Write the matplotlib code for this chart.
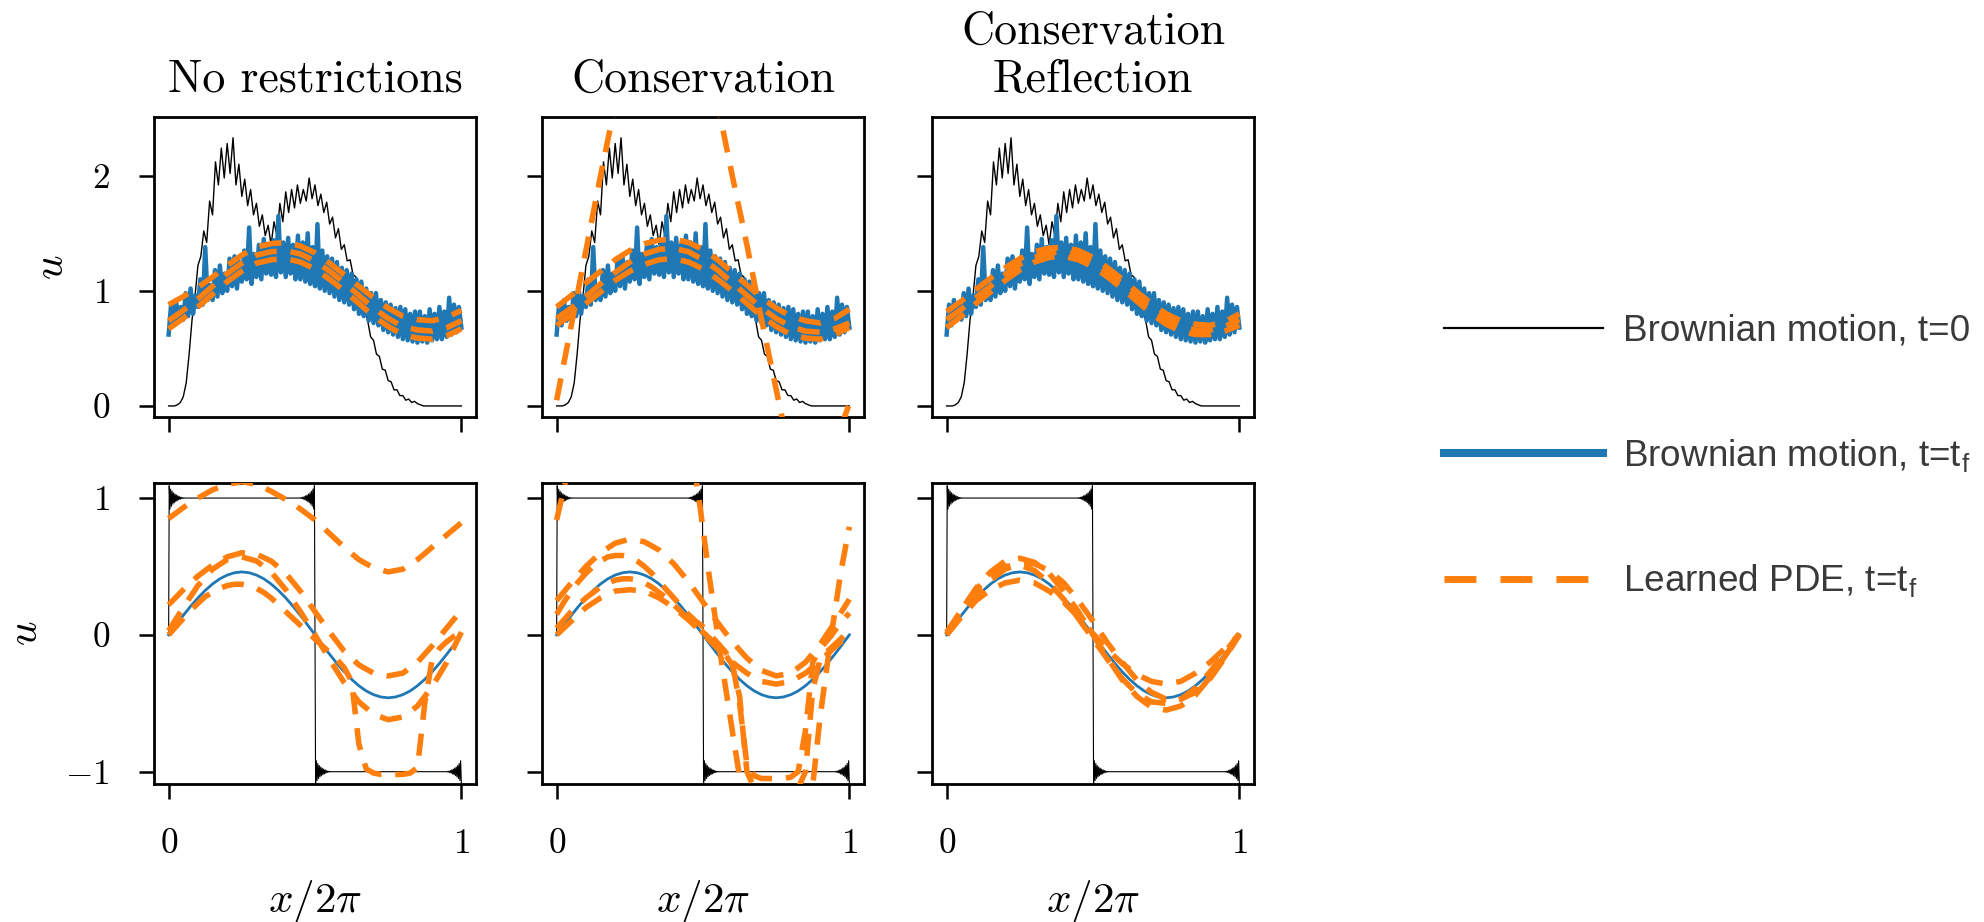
import numpy as np
import matplotlib
matplotlib.use('Agg')
import matplotlib.pyplot as plt
from matplotlib.lines import Line2D

plt.rcParams['mathtext.fontset'] = 'cm'
plt.rcParams['font.family'] = 'cmr10'
plt.rcParams['axes.formatter.use_mathtext'] = True

titles = ['No restrictions', 'Conservation', 'Conservation\nReflection']

# grids
x101 = np.linspace(0, 1, 101)
x121 = np.linspace(0, 1, 121)
x41 = np.linspace(0, 1, 41)
x21 = np.linspace(0, 1, 21)

# ---- top row: Brownian motion, t=0 (same in all panels)
black_top = [0.0, 0.0, 0.0, 0.01, 0.03, 0.08, 0.2, 0.45, 0.75, 0.95,
             1.22, 1.3, 1.52, 1.42, 1.78, 1.66, 2.12, 1.92, 2.24, 1.98,
             2.28, 2.02, 2.33, 1.92, 2.1, 1.82, 1.97, 1.74, 1.88, 1.66,
             1.76, 1.56, 1.66, 1.48, 1.57, 1.4, 1.6, 1.48, 1.76, 1.6,
             1.86, 1.68, 1.88, 1.72, 1.92, 1.76, 1.88, 1.78, 1.98, 1.8,
             1.92, 1.74, 1.84, 1.68, 1.77, 1.58, 1.64, 1.46, 1.54, 1.36,
             1.4, 1.26, 1.27, 1.14, 1.12, 1.0, 0.96, 0.84, 0.74, 0.6,
             0.57, 0.45, 0.43, 0.32, 0.31, 0.22, 0.21, 0.14, 0.14, 0.09,
             0.09, 0.05, 0.06, 0.03, 0.04, 0.02, 0.01, 0.0, 0.0, 0.0,
             0.0, 0.0, 0.0, 0.0, 0.0, 0.0, 0.0, 0.0, 0.0, 0.0, 0.0]

# ---- top row: Brownian motion, t=tf
blue_top = [0.62, 0.88, 0.70, 0.92, 0.74, 0.86,
            0.75, 0.98, 0.78, 1.02, 0.80, 0.96,
            0.86, 1.10, 0.88, 1.38, 0.92, 1.05,
            0.92, 1.18, 0.95, 1.22, 0.98, 1.15,
            1.00, 1.28, 1.04, 1.30, 1.02, 1.25,
            1.08, 1.35, 1.10, 1.55, 1.06, 1.32,
            1.12, 1.40, 1.10, 1.45, 1.15, 1.38,
            1.14, 1.44, 1.12, 1.65, 1.16, 1.42,
            1.12, 1.46, 1.15, 1.40, 1.10, 1.48,
            1.10, 1.42, 1.08, 1.50, 1.06, 1.38,
            1.04, 1.58, 1.02, 1.35, 1.00, 1.30,
            0.98, 1.28, 0.95, 1.25, 0.92, 1.20,
            0.90, 1.18, 0.88, 1.15, 0.84, 1.10,
            0.80, 1.08, 0.78, 1.02, 0.74, 0.98,
            0.72, 0.98, 0.70, 0.92, 0.66, 0.90,
            0.64, 0.88, 0.62, 0.85, 0.60, 0.86,
            0.58, 0.84, 0.57, 0.80, 0.56, 0.82,
            0.55, 0.82, 0.56, 0.78, 0.55, 0.84,
            0.57, 0.80, 0.58, 0.86, 0.58, 0.82,
            0.60, 0.94, 0.62, 0.88, 0.64, 0.86,
            0.68]

# ---- top row: learned PDE curves
top_nr_1 = [0.88, 0.95, 1.03, 1.12, 1.22, 1.31, 1.38, 1.41, 1.42, 1.39, 1.33,
            1.24, 1.14, 1.04, 0.94, 0.85, 0.78, 0.75, 0.74, 0.77, 0.83]
top_nr_2 = [0.74, 0.83, 0.93, 1.04, 1.15, 1.24, 1.31, 1.34, 1.35, 1.32, 1.26,
            1.17, 1.07, 0.96, 0.85, 0.76, 0.69, 0.66, 0.65, 0.68, 0.74]
top_nr_3 = [0.67, 0.76, 0.86, 0.97, 1.08, 1.17, 1.24, 1.27, 1.28, 1.25, 1.19,
            1.10, 1.00, 0.89, 0.78, 0.69, 0.62, 0.59, 0.58, 0.61, 0.67]

top_c_1 = [0.86, 0.96, 1.07, 1.17, 1.27, 1.35, 1.41, 1.44, 1.45, 1.42, 1.36,
           1.27, 1.16, 1.05, 0.94, 0.85, 0.78, 0.74, 0.72, 0.76, 0.84]
top_c_2 = [0.76, 0.85, 0.95, 1.06, 1.16, 1.25, 1.32, 1.36, 1.37, 1.34, 1.27,
           1.18, 1.07, 0.96, 0.85, 0.76, 0.69, 0.65, 0.64, 0.67, 0.72]
top_c_3 = [0.70, 0.79, 0.89, 0.99, 1.09, 1.17, 1.23, 1.27, 1.28, 1.25, 1.19,
           1.10, 1.00, 0.89, 0.78, 0.69, 0.62, 0.59, 0.58, 0.62, 0.68]
top_c_big_x = [0, 0.05, 0.1, 0.15, 0.19, 0.25, 0.375, 0.5, 0.56, 0.6, 0.65,
               0.7, 0.77, 0.85, 0.92, 0.98, 1.0]
top_c_big = [0.05, 0.7, 1.35, 2.0, 2.5, 3.1, 3.6, 3.2, 2.5, 2.0, 1.4,
             0.75, -0.1, -0.5, -0.4, -0.12, 0.02]

top_cr_1 = [0.82, 0.91, 1.01, 1.11, 1.20, 1.28, 1.34, 1.37, 1.38, 1.35, 1.29,
            1.20, 1.10, 0.99, 0.89, 0.80, 0.74, 0.71, 0.70, 0.73, 0.80]
top_cr_2 = [0.68, 0.78, 0.89, 0.99, 1.09, 1.18, 1.25, 1.29, 1.30, 1.27, 1.21,
            1.12, 1.02, 0.91, 0.80, 0.71, 0.65, 0.62, 0.62, 0.65, 0.70]
top_cr_3 = [0.75, 0.84, 0.94, 1.04, 1.14, 1.23, 1.29, 1.33, 1.34, 1.31, 1.25,
            1.16, 1.06, 0.95, 0.84, 0.75, 0.69, 0.66, 0.66, 0.69, 0.75]

# ---- bottom row: Brownian motion, t=0 (square wave with Gibbs horns)
horn = [0.09, -0.08, 0.065, -0.06, 0.05, -0.045, 0.038, -0.034, 0.029, -0.026,
        0.022, -0.019, 0.016, -0.013, 0.01, -0.008, 0.006, -0.004, 0.003,
        -0.002, 0.001, 0.0]
horn_step = 0.0025

# ---- bottom row: Brownian motion, t=tf
blue_bot = [0, 0.072, 0.142, 0.209, 0.270, 0.325, 0.372, 0.410, 0.437, 0.454,
            0.46, 0.454, 0.437, 0.410, 0.372, 0.325, 0.270, 0.209, 0.142, 0.072,
            0, -0.072, -0.142, -0.209, -0.270, -0.325, -0.372, -0.410, -0.437,
            -0.454, -0.46, -0.454, -0.437, -0.410, -0.372, -0.325, -0.270,
            -0.209, -0.142, -0.072, 0]

# ---- bottom row: learned PDE curves
bot_nr_a = [0.85, 0.93, 1.00, 1.06, 1.10, 1.12, 1.10, 1.05, 0.99, 0.92, 0.84,
            0.74, 0.64, 0.55, 0.49, 0.46, 0.48, 0.55, 0.64, 0.73, 0.82]
bot_nr_b = [0.22, 0.33, 0.43, 0.51, 0.57, 0.60, 0.59, 0.54, 0.45, 0.32, 0.17,
            0.02, -0.12, -0.22, -0.28, -0.30, -0.28, -0.20, -0.08, 0.05, 0.18]
bot_nr_c = [0.03, 0.20, 0.36, 0.48, 0.55, 0.57, 0.54, 0.46, 0.33, 0.17, 0.0,
            -0.18, -0.35, -0.49, -0.58, -0.62, -0.60, -0.52, -0.38, -0.20, 0.02]
bot_nr_d = [0.0, 0.06, 0.12, 0.18, 0.23, 0.28, 0.31, 0.34, 0.36, 0.37, 0.37,
            0.36, 0.34, 0.31, 0.27, 0.22, 0.17, 0.12, 0.07, 0.02, -0.03,
            -0.08, -0.13, -0.18, -0.24, -0.34, -0.80, -0.98, -1.01, -1.02,
            -1.02, -1.02, -1.02, -1.01, -0.97, -0.50, -0.18, -0.10, -0.05,
            -0.01, 0.02]

bot_c_big_x = [0, 0.03, 0.08, 0.15, 0.25, 0.35, 0.42, 0.486, 0.52, 0.56, 0.6,
               0.631, 0.7, 0.78, 0.85, 0.875, 0.9, 0.935, 0.97, 1.0]
bot_c_big = [0.84, 1.12, 1.7, 2.4, 2.8, 2.5, 1.9, 1.0, 0.45, -0.15, -0.7,
             -1.12, -2.0, -2.3, -1.6, -1.1, -0.6, -0.05, 0.45, 0.79]
bot_c_a = [0.25, 0.38, 0.50, 0.60, 0.67, 0.70, 0.68, 0.62, 0.52, 0.39, 0.24,
           0.09, -0.05, -0.17, -0.26, -0.30, -0.28, -0.20, -0.07, 0.09, 0.26]
bot_c_b = [0.15, 0.24, 0.32, 0.39, 0.45, 0.50, 0.54, 0.57, 0.58, 0.58, 0.57,
           0.54, 0.50, 0.45, 0.39, 0.33, 0.27, 0.21, 0.15, 0.10, 0.06,
           0.0, -0.06, -0.12, -0.20, -0.50, -0.95, -1.03, -1.05, -1.05,
           -1.05, -1.05, -1.04, -1.00, -0.70, -0.20, -0.10, -0.04, 0.03,
           0.10, 0.16]
bot_c_c = [0.05, 0.11, 0.17, 0.22, 0.27, 0.31, 0.35, 0.38, 0.40, 0.41, 0.41,
           0.40, 0.38, 0.35, 0.31, 0.27, 0.22, 0.17, 0.12, 0.07, 0.02,
           -0.03, -0.08, -0.14, -0.22, -0.45, -1.00, -1.12, -1.15, -1.15,
           -1.15, -1.15, -1.15, -1.12, -1.00, -0.40, -0.18, -0.12, -0.07,
           -0.02, 0.04]
bot_c_d = [0.0, 0.10, 0.20, 0.27, 0.32, 0.33, 0.32, 0.27, 0.20, 0.11, 0.01,
           -0.10, -0.20, -0.28, -0.34, -0.36, -0.34, -0.28, -0.19, -0.09, 0.0]

bot_cr_a = [0.0, 0.18, 0.34, 0.46, 0.54, 0.56, 0.53, 0.45, 0.32, 0.17, 0.0,
            -0.17, -0.33, -0.45, -0.53, -0.55, -0.52, -0.44, -0.31, -0.16, 0.0]
bot_cr_b = [0.02, 0.18, 0.33, 0.44, 0.50, 0.51, 0.47, 0.38, 0.26, 0.12, -0.03,
            -0.18, -0.32, -0.43, -0.49, -0.50, -0.47, -0.39, -0.27, -0.13, 0.01]
bot_cr_c = [0.0, 0.13, 0.25, 0.33, 0.38, 0.40, 0.38, 0.32, 0.24, 0.13, 0.01,
            -0.11, -0.21, -0.29, -0.34, -0.36, -0.34, -0.28, -0.20, -0.10, 0.0]
bot_cr_d = [0.0, 0.14, 0.28, 0.40, 0.48, 0.52, 0.52, 0.47, 0.38, 0.25, 0.10,
            -0.06, -0.20, -0.33, -0.42, -0.47, -0.47, -0.42, -0.32, -0.17, 0.0]

top_learned = [
    [(x21, top_nr_1), (x21, top_nr_2), (x21, top_nr_3)],
    [(x21, top_c_1), (x21, top_c_2), (x21, top_c_3), (top_c_big_x, top_c_big)],
    [(x21, top_cr_1), (x21, top_cr_2), (x21, top_cr_3)],
]
bot_learned = [
    [(x21, bot_nr_a), (x21, bot_nr_b), (x21, bot_nr_c), (x41, bot_nr_d)],
    [(bot_c_big_x, bot_c_big), (x21, bot_c_a), (x41, bot_c_b), (x41, bot_c_c), (x21, bot_c_d)],
    [(x21, bot_cr_a), (x21, bot_cr_b), (x21, bot_cr_c), (x21, bot_cr_d)],
]

# square wave assembled from the plateau levels and the horn offsets
h = np.array(horn)
k = np.arange(len(h)) * horn_step
sq_x = np.concatenate([[0.0], 0.002 + k, (0.498 - k)[::-1], 0.502 + k, (1.0 - k)[::-1]])
sq_y = np.concatenate([[0.0], 1 + h, (1 + h)[::-1], -1 - h, (-1 - h)[::-1]])

W, H = 1984, 922
fig = plt.figure(figsize=(W / 100, H / 100), dpi=100)

lefts = [154, 542, 932]
blue = '#1f77b4'
orange = '#ff7f0e'
dash = (0, (4, 2.5))

for j in range(3):
    ax = fig.add_axes([lefts[j] / W, 1 - 417 / H, 322 / W, 300 / H])
    ax.plot(x101, black_top, color='k', lw=1.0, zorder=2)
    ax.plot(x121, blue_top, color=blue, lw=3.2, zorder=3)
    for xs, ys in top_learned[j]:
        ax.plot(xs, ys, color=orange, lw=4, ls=dash, zorder=4)
    ax.set_xlim(-0.05, 1.05)
    ax.set_ylim(-0.096, 2.51)
    ax.set_xticks([0, 1])
    ax.set_yticks([0, 1, 2])
    ax.tick_params(labelbottom=False, labelleft=(j == 0))
    ax.set_title(titles[j], fontsize=33, pad=18)
    if j == 0:
        ax.set_ylabel('$u$', fontsize=31, labelpad=15)

    ax = fig.add_axes([lefts[j] / W, 1 - 784 / H, 322 / W, 301 / H])
    ax.plot(sq_x, sq_y, color='k', lw=0.8, zorder=2)
    ax.plot(x41, blue_bot, color=blue, lw=2.0, zorder=3)
    for xs, ys in bot_learned[j]:
        ax.plot(xs, ys, color=orange, lw=4, ls=dash, zorder=4)
    ax.set_xlim(-0.05, 1.05)
    ax.set_ylim(-1.09, 1.11)
    ax.set_xticks([0, 1])
    ax.set_yticks([-1, 0, 1])
    ax.tick_params(labelleft=(j == 0))
    ax.set_xlabel('$x/2\\pi$', fontsize=31, labelpad=13)
    if j == 0:
        ax.set_ylabel('$u$', fontsize=31, labelpad=15)

for ax in fig.axes:
    for sp in ax.spines.values():
        sp.set_linewidth(2.0)
    ax.tick_params(direction='out', length=10.8, width=1.8, pad=21, labelsize=25.5)

handles = [Line2D([], [], color='k', lw=1.6),
           Line2D([], [], color=blue, lw=5.8),
           Line2D([], [], color=orange, lw=5, ls=(0, (4.6, 3.46)))]
labels = ['Brownian motion, t=0',
          r'Brownian motion, t=t$_\mathregular{f}$',
          r'Learned PDE, t=t$_\mathregular{f}$']
fig.legend(handles, labels, loc='center left', bbox_to_anchor=(1444 / W, 1 - 457 / H),
           frameon=False, borderpad=0, borderaxespad=0, handlelength=4.3,
           handletextpad=0.54, labelspacing=2.4, labelcolor='#3a3a3a',
           prop={'family': 'Liberation Sans', 'size': 26.6})

fig.savefig('out.png', dpi=100)
